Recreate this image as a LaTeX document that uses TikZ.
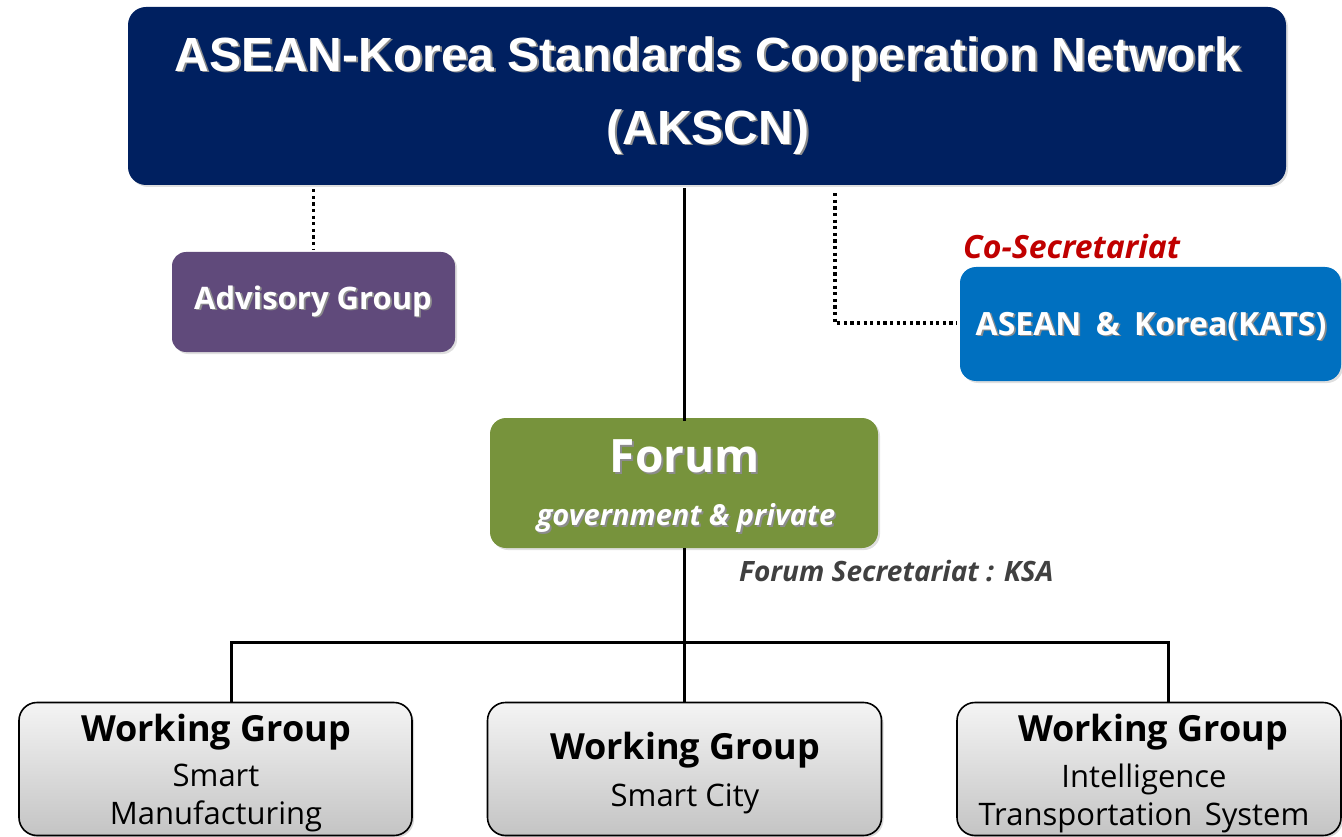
\documentclass[tikz,border=0pt]{standalone}
\usepackage{fontspec}
\setmainfont{Open Sans}
\newfontfamily\arialfont{Liberation Sans}
\usetikzlibrary{shadows}

% colours of the chart
\definecolor{navy}{HTML}{002060}
\definecolor{advpurple}{HTML}{604A7B}
\definecolor{secblue}{HTML}{0070C0}
\definecolor{forumgreen}{HTML}{77933C}
\definecolor{darkred}{HTML}{C00000}
\definecolor{darkgray}{HTML}{404040}
\definecolor{wgtop}{HTML}{F4F4F4}
\definecolor{wgbottom}{HTML}{C4C4C4}

% white text with a soft dark shadow behind it
\newcommand\shadowtxt[1]{\makebox[0pt][l]{\kern1.8pt\raisebox{-1.8pt}{\textcolor{black!45}{#1}}}#1}

\tikzset{
  box/.style={rounded corners=18pt, inner sep=0pt, align=center,
    drop shadow={opacity=0.25, shadow xshift=2pt, shadow yshift=-2pt}},
  wgbox/.style={rounded corners=18pt, inner sep=0pt, align=center, draw=black,
    line width=1.6pt, top color=wgtop, bottom color=wgbottom,
    drop shadow={opacity=0.3, shadow xshift=2pt, shadow yshift=-2pt}},
  label/.style={inner sep=0pt, align=center},
  link/.style={line width=3pt, draw=black},
  dotlink/.style={line width=3.2pt, draw=black, dash pattern=on 3.2pt off 3.4pt},
}

\begin{document}
\begin{tikzpicture}[x=1pt, y=-1pt]
  \useasboundingbox (0,0) rectangle (1342,837);

  % network
  \node[box, fill=navy, minimum width=1158pt, minimum height=178pt] (net) at (707,96) {};
  \node[label, text=white, font=\arialfont\bfseries\fontsize{48}{73}\selectfont]
    (nettext) at (708,96) {\shadowtxt{ASEAN-Korea Standards Cooperation Network}\\\shadowtxt{(AKSCN)}};

  % advisory group
  \node[box, fill=advpurple, minimum width=283pt, minimum height=100pt,
        rounded corners=14pt] (adv) at (313.5,302) {};
  \node[label, text=white, font=\bfseries\fontsize{31}{34}\selectfont]
    (advtext) at (313,302) {\shadowtxt{Advisory Group}};

  % co-secretariat
  \node[box, fill=secblue, minimum width=381pt, minimum height=114pt,
        rounded corners=16pt] (cosec) at (1150.5,324) {};
  \node[label, text=white, font=\bfseries\fontsize{32}{35}\selectfont]
    (cosectext) at (1151,327) {\shadowtxt{ASEAN\hspace{0.45em}\&\hspace{0.45em}Korea(KATS)}};
  \node[anchor=south west, inner sep=0pt, text=darkred,
        font=\bfseries\itshape\fontsize{32}{35}\selectfont]
    (coseclabel) at (963,259) {Co-Secretariat};

  % forum
  \node[box, fill=forumgreen, minimum width=388pt, minimum height=130pt,
        rounded corners=16pt] (forum) at (684,483) {};
  \node[label, text=white, font=\bfseries\fontsize{46}{50}\selectfont]
    (forumtitle) at (685,457) {\shadowtxt{Forum}};
  \node[label, text=white, font=\bfseries\itshape\fontsize{29}{32}\selectfont]
    (forumsub) at (686,519) {\shadowtxt{government \& private}};
  \node[anchor=west, inner sep=0pt, text=darkgray,
        font=\bfseries\itshape\fontsize{28}{31}\selectfont]
    (forumsec) at (739,571) {Forum Secretariat : KSA};

  % working groups
  \node[wgbox, minimum width=393pt, minimum height=133pt] (wg1) at (215.5,769) {};
  \node[wgbox, minimum width=394pt, minimum height=133pt] (wg2) at (684.5,769) {};
  \node[wgbox, minimum width=384pt, minimum height=133pt] (wg3) at (1149,769) {};

  \node[label, font=\bfseries\fontsize{36}{40}\selectfont] (wg1a) at (216,732) {Working Group};
  \node[label, font=\fontsize{31}{38}\selectfont] (wg1b) at (216,798) {Smart\\Manufacturing};
  \node[label, font=\bfseries\fontsize{36}{40}\selectfont] (wg2a) at (685,750) {Working Group};
  \node[label, font=\fontsize{31}{35}\selectfont] (wg2b) at (685,799) {Smart City};
  \node[label, font=\bfseries\fontsize{36}{40}\selectfont] (wg3a) at (1153,732) {Working Group};
  \node[label, font=\fontsize{31}{38}\selectfont] (wg3b) at (1144,798) {Intelligence\\Transportation\hspace{0.4em}System};

  % solid connectors
  \draw[link] (net.south -| forum.north) ++(0,3) -- ([yshift=-3pt]forum.north);
  \draw[link] (forum.south) -- (forum.south |- wg2.north);
  \coordinate (busl) at (231,642);
  \coordinate (busr) at (1168,642);
  \draw[link] (busl |- wg1.north) -- (busl) -- (busr) -- (busr |- wg3.north);

  % dotted connectors
  \draw[dotlink] (net.south -| adv.north) ++(0,4) -- ([yshift=2pt]adv.north);
  \coordinate (corner) at (835,323);
  \draw[dotlink] (net.south -| corner) ++(0,8) -- (corner) -- ([xshift=-3pt]cosec.west |- corner);
\end{tikzpicture}
\end{document}
